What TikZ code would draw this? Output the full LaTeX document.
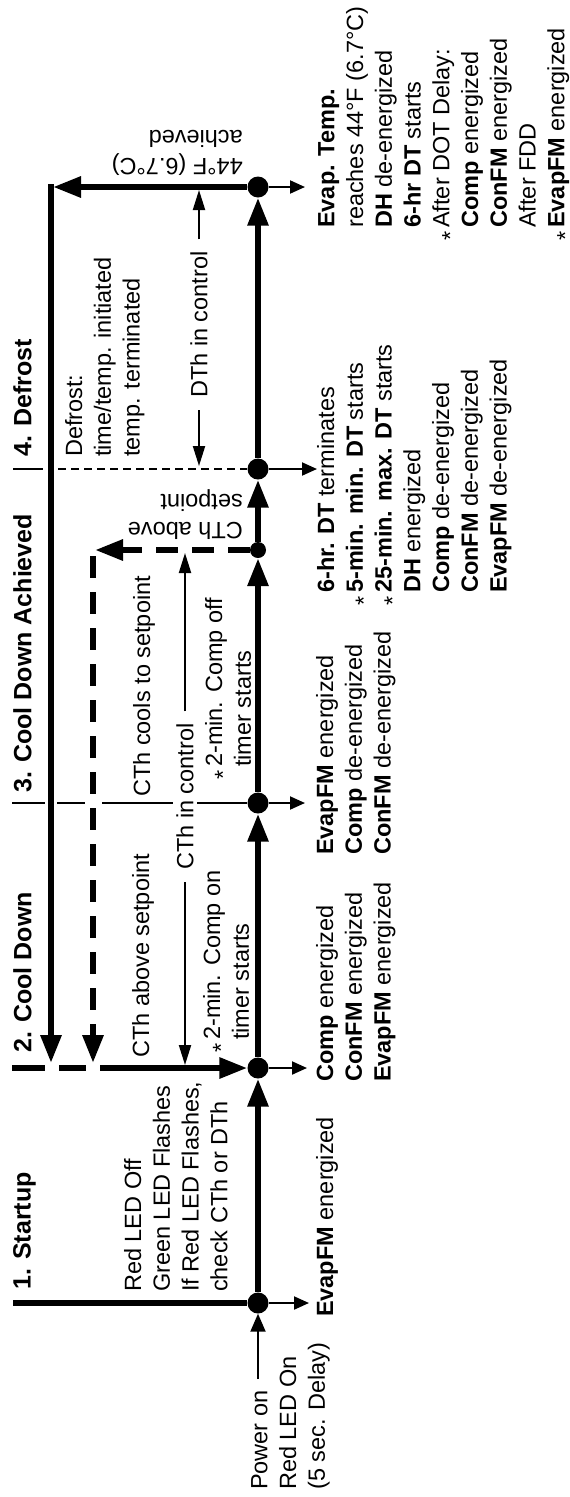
\documentclass[tikz,border=0pt]{standalone}
\usepackage{fontspec}
\setmainfont{Liberation Sans}
\usetikzlibrary{arrows.meta}
\newcommand{\lowstar}{\raisebox{-0.38em}{*}}
\newcommand{\hangstar}{\llap{\lowstar\,}}
\tikzstyle{dot}=[circle,fill=black,inner sep=0pt,minimum size=21pt]
\tikzstyle{sdot}=[circle,fill=black,inner sep=0pt,minimum size=16pt]
\tikzstyle{thk}=[line width=6pt]
\tikzstyle{thn}=[line width=2pt]
\tikzstyle{dsh}=[line width=6pt,dash pattern=on 22pt off 14pt]
\tikzstyle{big}=[-{Triangle[length=28pt,width=20pt]}]
\tikzstyle{sml}=[-{Triangle[length=15pt,width=13pt]}]
\tikzstyle{lng}=[-{Triangle[length=20pt,width=12pt]}]
\tikzstyle{txt}=[rotate=90,anchor=north west,inner sep=0pt,align=left]
\tikzstyle{hd}=[txt,font=\fontsize{25}{30}\selectfont\bfseries]
\tikzstyle{inv}=[rotate=180,anchor=north west,inner sep=0pt,align=left]

\begin{document}
\begin{tikzpicture}[x=1pt,y=-1pt,font=\fontsize{23.5}{28.75}\selectfont]
    \useasboundingbox (0,0) rectangle (570,1497);
            \node [style=dot] (d1) at (258, 1303) {};
            \node [style=dot] (d2) at (258, 1068) {};
            \node [style=dot] (d3) at (258, 803) {};
            \node [style=sdot] (dc) at (258, 550) {};
            \node [style=dot] (d4) at (258, 469) {};
            \node [style=dot] (d5) at (258, 187) {};

            \node [style=hd] (h1) at (13, 1290) {1. Startup};
            \node [style=hd] (h2) at (13, 1053) {2. Cool Down};
            \node [style=hd] (h3) at (13, 793) {3. Cool Down Achieved};
            \node [style=hd] (h4) at (13, 457) {4. Defrost};

            \node [style=txt] (l1) at (124, 1292) {Red LED Off\\Green LED Flashes\\If Red LED Flashes,\\check CTh or DTh};
            \node [style=txt] (pw) at (251, 1490) {Power on\\Red LED On\\(5 sec. Delay)};
            \node [style=txt] (l2) at (132, 1058) {CTh above setpoint};
            \node [style=txt] (l3) at (203, 1040) {\hangstar 2-min. Comp on\\timer starts};
            \node [style=txt] (l4) at (133, 797) {CTh cools to setpoint};
            \node [style=txt] (l5) at (205, 767) {\hangstar 2-min. Comp off\\timer starts};
            \node [style=txt] (l6) at (65, 457) {Defrost:\\time/temp. initiated\\temp. terminated};
            \node [style=inv] (l7) at (243, 540) {CTh above\\setpoint};
            \node [style=inv] (l8) at (243, 176) {44°F (6.7°C)\\achieved};

            \node [style=txt] (r1) at (316, 1317) {\textbf{EvapFM} energized};
            \node [style=txt] (r2) at (316, 1082) {\textbf{Comp} energized\\\textbf{ConFM} energized\\\textbf{EvapFM} energized};
            \node [style=txt] (r3) at (316, 855) {\textbf{EvapFM} energized\\\textbf{Comp} de-energized\\\textbf{ConFM} de-energized};
            \node [style=txt] (r4) at (317, 593) {\textbf{6-hr. DT} terminates\\\hangstar\textbf{5-min. min. DT} starts\\\hangstar\textbf{25-min. max. DT} starts\\\textbf{DH} energized\\\textbf{Comp} de-energized\\\textbf{ConFM} de-energized\\\textbf{EvapFM} de-energized};
            \node [style=txt] (r5) at (318, 228) {\textbf{Evap. Temp.}\\reaches 44°F (6.7°C)\\\textbf{DH} de-energized\\\textbf{6-hr DT} starts\\\hangstar After DOT Delay:\\\textbf{Comp} energized\\\textbf{ConFM} energized\\After FDD\\\hangstar\textbf{EvapFM} energized};

            \coordinate (p1) at (13, 1303);
            \coordinate (p2a) at (12, 1068);
            \coordinate (p2b) at (45, 1068);
            \coordinate (p2c) at (59, 1068);
            \coordinate (p2d) at (86, 1068);
            \coordinate (p2e) at (100, 1068);
            \coordinate (p3a) at (12, 803);
            \coordinate (p3b) at (45, 803);
            \coordinate (p3c) at (57, 803);
            \coordinate (p3d) at (85, 803);
            \coordinate (p3e) at (102, 803);
            \coordinate (p4a) at (13, 469);
            \coordinate (p4b) at (43, 469);
            \coordinate (p4c) at (58, 469);
            \draw [style=thk] (p1) to (d1);
            \draw [style=thk] (p2a) to (p2b);
            \draw [style=thk] (p2c) to (p2d);
            \draw [style=thk,style=big] (p2e) to (d2);
            \draw [style=thn] (p3a) to (p3b);
            \draw [style=thn] (p3c) to (p3d);
            \draw [style=thn] (p3e) to (d3);
            \draw [style=thn] (p4a) to (p4b);
            \draw [style=thn,dash pattern=on 8pt off 5pt] (p4c) to (d4);

            \node [style=txt,anchor=west,fill=white,inner xsep=12pt,inner ysep=3pt] (ctl) at (185, 882) {CTh in control};
            \node [style=txt,anchor=west,inner xsep=12pt,inner ysep=3pt] (dtl) at (199, 410) {DTh in control};

            \draw [style=thk,style=big] (d1) to (d2);
            \draw [style=thk,style=big] (d2) to (d3);
            \draw [style=thk,style=big] (d3) to (dc);
            \draw [style=thk,style=big] (dc) to (d4);
            \draw [style=thk,style=big] (d4) to (d5);

            \coordinate (e1) at (309, 1303);
            \coordinate (e2) at (307, 1068);
            \coordinate (e3) at (305, 803);
            \coordinate (e4) at (317, 469);
            \coordinate (e5) at (305, 187);
            \draw [style=thn,style=sml] (d1) to (e1);
            \draw [style=thn,style=sml] (d2) to (e2);
            \draw [style=thn,style=sml] (d3) to (e3);
            \draw [style=thn,style=sml] (d4) to (e4);
            \draw [style=thn,style=sml] (d5) to (e5);

            \coordinate (pe) at (258, 1379);
            \draw [style=thn,-{Triangle[length=18pt,width=15pt]}] (pe) to (d1);

            \coordinate (s1) at (53, 187);
            \coordinate (s2) at (51, 184);
            \coordinate (s3) at (51, 1063);
            \draw [style=thk,style=big] (d5) to (s1);
            \draw [style=thk,style=big] (s2) to (s3);

            \coordinate (k1) at (95, 550);
            \coordinate (k2) at (93, 556);
            \coordinate (k3) at (93, 1063);
            \draw [style=dsh,style=big] (dc) to (k1);
            \draw [style=dsh,style=big] (k2) to (k3);

            \coordinate (c1) at (185, 1065);
            \coordinate (c2) at (185, 553);
            \coordinate (t1) at (199, 466);
            \coordinate (t2) at (199, 190);
            \draw [style=thn,style=lng] (ctl.west) to (c1);
            \draw [style=thn,style=lng] (ctl.east) to (c2);
            \draw [style=thn,style=lng] (dtl.west) to (t1);
            \draw [style=thn,style=lng] (dtl.east) to (t2);
    \end{tikzpicture}
\end{document}
